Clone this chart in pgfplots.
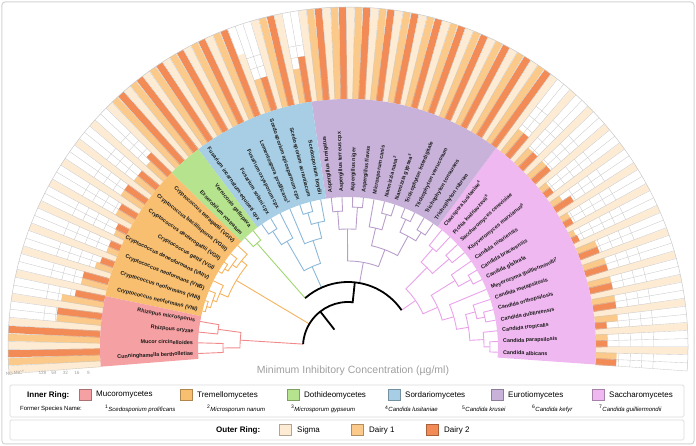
\documentclass[border=0pt]{standalone}
\usepackage{pgfplots}
\pgfplotsset{compat=1.18}
\usepackage{pgfplotstable}
\usepackage{fontspec}
\setmainfont{Liberation Sans}

\definecolor{sig}{HTML}{FDEBD3}
\definecolor{da1}{HTML}{FBC98A}
\definecolor{da2}{HTML}{F28B55}
\definecolor{cMuc}{HTML}{F5A0A2}
\definecolor{cTre}{HTML}{F8BF70}
\definecolor{cDot}{HTML}{B6E38E}
\definecolor{cSor}{HTML}{A7CEE4}
\definecolor{cEur}{HTML}{C8B2DA}
\definecolor{cSac}{HTML}{F0B8F0}
\definecolor{tMuc}{HTML}{F08A8A}
\definecolor{tTre}{HTML}{F5B35E}
\definecolor{tDot}{HTML}{9FD672}
\definecolor{tSor}{HTML}{8DB9D9}
\definecolor{tEur}{HTML}{B99ECB}
\definecolor{tSac}{HTML}{E9A2EA}
\definecolor{gridc}{HTML}{C9C9C9}
\definecolor{labc}{HTML}{1A1A1A}

% MIC levels: 1=8, 2=16, 3=32, 4=64, 5=128, 8=NO MIC
\pgfplotstableread{
k s d1 d2
0 8 1.8 1.8
1 8 1 1
2 8 2 1
3 8 2 2
4 8 2 2
5 8 2 2
6 8 1.8 1.8
7 8 0.5 0.6
8 8 0.8 0.8
9 8 1 1.8
10 8 0.8 0.8
11 8 1.8 1.8
12 8 1.8 1.8
13 8 2.5 2.5
14 8 8 8
15 8 8 8
16 8 8 8
17 8 8 8
18 8 8 8
19 8 8 8
20 8 8 8
21 8 8 8
22 8 8 8
23 8 8 8
24 8 8 8
25 8 3 4
26 8 8 8
27 5.5 3 3
28 8 8 8
29 8 8 8
30 8 8 8
31 8 8 8
32 8 8 8
33 8 8 8
34 8 2 2.5
35 8 2 2
36 8 2.2 2.2
37 8 1.7 1.7
38 8 1 1.1
39 8 1 1
40 8 1.5 1.2
41 8 2.3 2.3
42 8 3.7 2.6
43 8 3.9 3.9
44 8 8 8
45 8 8 8
}\mic

\newcommand{\tn}[6]{\draw[#1, line width=0.9pt] (#3:#4pt) -- (#3:#2pt) arc[start angle=#3,end angle=#5,radius=#2pt] -- (#5:#6pt);}
\newcommand{\sector}[3]{\fill[#1] (#2:150pt) arc[start angle=#2,end angle=#3,radius=150pt] -- (#3:248pt) arc[start angle=#3,end angle=#2,radius=248pt] -- cycle;}

\begin{document}
\begin{tikzpicture}[x=1pt,y=1pt]
\path[use as bounding box] (-348,-99) rectangle (348,347);
\draw[gray!35, line width=1pt, rounded corners=3pt] (-346,345) rectangle (346,-97);

% concentric grid
\foreach \r in {259.5,271,282.5,294,305.5} {
  \draw[gridc, line width=0.35pt] (-4.05:\r pt) arc[start angle=-4.05,end angle=184.55,radius=\r pt];
}

\begin{axis}[at={(-348pt,-99pt)}, anchor=south west, x=1pt, y=1pt,
  xmin=-348, xmax=348, ymin=-99, ymax=347, enlargelimits=false,
  hide axis, clip=false]
\addplot[no marks, draw=sig, line width=7pt,
  quiver={u={11.5*\thisrow{s}*cos(-0.633+4.1*\thisrow{k})}, v={11.5*\thisrow{s}*sin(-0.633+4.1*\thisrow{k})}}]
  table[x expr={248*cos(-0.633+4.1*\thisrow{k})}, y expr={248*sin(-0.633+4.1*\thisrow{k})}] {\mic};
\addplot[no marks, draw=da1, line width=7pt,
  quiver={u={11.5*\thisrow{d1}*cos(-2.0+4.1*\thisrow{k})}, v={11.5*\thisrow{d1}*sin(-2.0+4.1*\thisrow{k})}}]
  table[x expr={248*cos(-2.0+4.1*\thisrow{k})}, y expr={248*sin(-2.0+4.1*\thisrow{k})}] {\mic};
\addplot[no marks, draw=da2, line width=7pt,
  quiver={u={11.5*\thisrow{d2}*cos(-3.367+4.1*\thisrow{k})}, v={11.5*\thisrow{d2}*sin(-3.367+4.1*\thisrow{k})}}]
  table[x expr={248*cos(-3.367+4.1*\thisrow{k})}, y expr={248*sin(-3.367+4.1*\thisrow{k})}] {\mic};
\end{axis}

% radial grid lines and outer edge
\foreach \i in {0,...,138} {
  \pgfmathsetmacro\a{-4.05+1.366667*\i}
  \draw[gridc, line width=0.35pt] (\a:248pt) -- (\a:340pt);
}
\draw[gridc, line width=0.5pt] (-4.05:340pt) arc[start angle=-4.05,end angle=184.55,radius=340pt];

% inner ring sectors
\sector{cSac}{-4.05}{53.35}
\sector{cEur}{53.35}{98.45}
\sector{cSor}{98.45}{127.15}
\sector{cDot}{127.15}{135.35}
\sector{cTre}{135.35}{168.15}
\sector{cMuc}{168.15}{184.55}

% dendrogram: colored stems
\draw[tMuc, line width=0.9pt] (176.35:45pt) -- (176.35:108pt);
\draw[tTre, line width=0.9pt] (149.19:45pt) -- (149.19:130pt);
\draw[tDot, line width=0.9pt] (131.25:65pt) -- (131.25:138pt);
\draw[tSor, line width=0.9pt] (114.08:65pt) -- (114.08:88pt);
\draw[tEur, line width=0.9pt] (79.745:65pt) -- (79.745:86pt);
\draw[tSac, line width=0.9pt] (34.52:65pt) -- (34.52:82pt);
% backbone
\draw[black, line width=1.8pt] (128:22pt) -- (128:45pt);
\draw[black, line width=1.8pt] (84:45pt) arc[start angle=84,end angle=176.35,radius=45pt];
\draw[black, line width=1.8pt] (84:44.1pt) -- (84:65pt);
\draw[black, line width=1.8pt] (34.52:65pt) arc[start angle=34.52,end angle=131.25,radius=65pt];
% Mucoromycetes
\tn{tMuc}{108}{172.25}{131}{180.45}{125}
\tn{tMuc}{131}{170.2}{150}{174.3}{150}
\tn{tMuc}{125}{178.4}{150}{182.5}{150}
% Tremellomycetes
\tn{tTre}{130}{140.99}{137}{157.39}{139}
\tn{tTre}{137}{137.4}{150}{144.575}{142}
\tn{tTre}{142}{141.5}{150}{147.65}{146}
\tn{tTre}{146}{145.6}{150}{149.7}{150}
\tn{tTre}{139}{153.8}{150}{160.975}{143}
\tn{tTre}{143}{157.9}{150}{164.05}{147}
\tn{tTre}{147}{162.0}{150}{166.1}{150}
% Dothideomycetes
\tn{tDot}{138}{129.2}{150}{133.3}{150}
% Sordariomycetes
\tn{tSor}{88}{108.19}{112}{119.975}{122}
\tn{tSor}{112}{103.575}{128}{112.8}{150}
\tn{tSor}{128}{100.5}{150}{106.65}{140}
\tn{tSor}{140}{104.6}{150}{108.7}{150}
\tn{tSor}{122}{116.9}{150}{123.05}{138}
\tn{tSor}{138}{121.0}{150}{125.1}{150}
% Eurotiomycetes
\tn{tEur}{86}{69.24}{104}{90.25}{118}
\tn{tEur}{118}{86.15}{140}{94.35}{136}
\tn{tEur}{140}{84.1}{150}{88.2}{150}
\tn{tEur}{136}{92.3}{150}{96.4}{150}
\tn{tEur}{104}{61.55}{126}{76.925}{122}
\tn{tEur}{126}{57.45}{136}{65.65}{140}
\tn{tEur}{136}{55.4}{150}{59.5}{150}
\tn{tEur}{140}{63.6}{150}{67.7}{150}
\tn{tEur}{122}{73.85}{138}{80.0}{150}
\tn{tEur}{138}{71.8}{150}{75.9}{150}
% Saccharomycetes
\tn{tSac}{82}{23.88}{98}{45.15}{112}
\tn{tSac}{112}{41.05}{134}{49.25}{130}
\tn{tSac}{134}{39.0}{150}{43.1}{150}
\tn{tSac}{130}{47.2}{150}{51.3}{150}
\tn{tSac}{98}{15.94}{110}{31.825}{126}
\tn{tSac}{126}{28.75}{140}{34.9}{150}
\tn{tSac}{140}{26.7}{150}{30.8}{150}
\tn{tSac}{110}{9.275}{122}{22.6}{150}
\tn{tSac}{122}{3.125}{136}{15.425}{132}
\tn{tSac}{136}{0.05}{142}{6.2}{150}
\tn{tSac}{142}{-2.0}{150}{2.1}{150}
\tn{tSac}{132}{12.35}{140}{18.5}{150}
\tn{tSac}{140}{10.3}{150}{14.4}{150}

% species labels
\foreach \k/\t in {0/Candida albicans, 1/Candida parapsilosis, 2/Candida tropicalis, 3/Candida dubliniensis, 4/Candida orthopsilosis, 5/Candida metapsilosis, 6/Meyerozyma guilliermondii\textsuperscript{7}, 7/Candida glabrata, 8/Candida bracarensis, 9/Candida nivariensis, 10/Kluyveromyces marxianus\textsuperscript{6}, 11/Saccharomyces cerevisiae, 12/Pichia kudriavzevii\textsuperscript{5}, 13/Clavispora lusitaniae\textsuperscript{4}, 14/Trichophyton rubrum, 15/Trichophyton tonsurans, 16/Trichophyton verrucosum, 17/Trichophyton interdigitale, 18/Nannizzia gypsea\textsuperscript{3}, 19/Nannizzia nana\textsuperscript{2}, 20/Microsporum canis, 21/Aspergillus flavus, 22/Aspergillus niger, 23/Aspergillus terreus cpx, 24/Aspergillus fumigatus} {
  \pgfmathsetmacro\a{-2.0+4.1*\k}
  \node[font=\fontsize{5.4}{6}\selectfont\bfseries, text=labc, inner sep=0pt, anchor=west, rotate=\a] at (\a:155pt) {\t};
}
\foreach \k/\t in {25/Scedosporium boydii, 26/Scedosporium aurantiacum, 27/Scedosporium apiospermum cpx, 28/Lomentospora prolificans\textsuperscript{1}, 29/Fusarium oxysporum cpx, 30/Fusarium solani cpx, 31/Fusarium incarnatum-equiseti cpx, 32/Verruconis gallopava, 33/Exserohilum rostratum, 34/Cryptococcus tetragattii (VGIV), 35/Cryptococcus bacillisporus (VGIII), 36/Cryptococcus deuterogattii (VGII), 37/Cryptococcus gattii (VGI), 38/Cryptococcus deneoformans (VNIV), 39/Cryptococcus neoformans (VNB), 40/Cryptococcus neoformans (VNII), 41/Cryptococcus neoformans (VNI), 42/Rhizopus microsporus, 43/Rhizpous oryzae, 44/Mucor circinelloides, 45/Cunninghamella bertholletiae} {
  \pgfmathsetmacro\a{-2.0+4.1*\k}
  \pgfmathsetmacro\b{\a-180}
  \node[font=\fontsize{5.4}{6}\selectfont\bfseries, text=labc, inner sep=0pt, anchor=east, rotate=\b] at (\a:155pt) {\t};
}

% axis title and level labels
\node[text=gray!75, font=\fontsize{10.5}{12}\selectfont] at (5,-24) {Minimum Inhibitory Concentration (µg/ml)};
\foreach \x/\t in {-333/NO MIC*, -305.5/128, -294/64, -282.5/32, -271/16, -259.5/8} {
  \node[text=gray!80, font=\fontsize{4.5}{5}\selectfont, rotate=5, inner sep=0pt] at (\x,-26) {\t};
}

% legend boxes
\draw[gray!30, line width=0.7pt, rounded corners=1.5pt] (-338,-38) rectangle (336,-70);
\draw[gray!30, line width=0.7pt, rounded corners=1.5pt] (-338,-73) rectangle (336,-93);
\node[font=\fontsize{8}{9}\selectfont\bfseries, anchor=west, inner sep=0pt] at (-321,-48) {Inner Ring:};
\foreach \x/\c/\t in {-269/cMuc/Mucoromycetes, -168/cTre/Tremellomycetes, -61/cDot/Dothideomycetes, 40/cSor/Sordariomycetes, 143/cEur/Eurotiomycetes, 244/cSac/Saccharomycetes} {
  \filldraw[fill=\c, draw=\c!70!black, line width=0.3pt] (\x,-42.5) rectangle ++(12,-11);
  \node[font=\fontsize{8}{9}\selectfont, anchor=west, inner sep=0pt] at (\x+17,-48) {\t};
}
\node[font=\fontsize{6}{7}\selectfont, anchor=west, inner sep=0pt] at (-328,-62) {Former Species Name:};
\foreach \x/\n/\t in {-243/1/Scedosporium prolificans, -141/2/Microsporum nanum, -57/3/Microsporum gypseum, 37/4/Candida lusitaniae, 114/5/Candida krusei, 184/6/Candida kefyr, 251/7/Candida guilliermondii} {
  \node[font=\fontsize{6}{7}\selectfont\itshape, anchor=west, inner sep=0pt] at (\x,-62) {\textsuperscript{\upshape\n}\t};
}
\node[font=\fontsize{8}{9}\selectfont\bfseries, anchor=west, inner sep=0pt] at (-132,-83) {Outer Ring:};
\foreach \x/\c/\t in {-69/sig/Sigma, 3/da1/Dairy 1, 78/da2/Dairy 2} {
  \filldraw[fill=\c, draw=\c!70!black, line width=0.3pt] (\x,-77.5) rectangle ++(12,-11);
  \node[font=\fontsize{8}{9}\selectfont, anchor=west, inner sep=0pt] at (\x+18,-83) {\t};
}
\end{tikzpicture}
\end{document}
